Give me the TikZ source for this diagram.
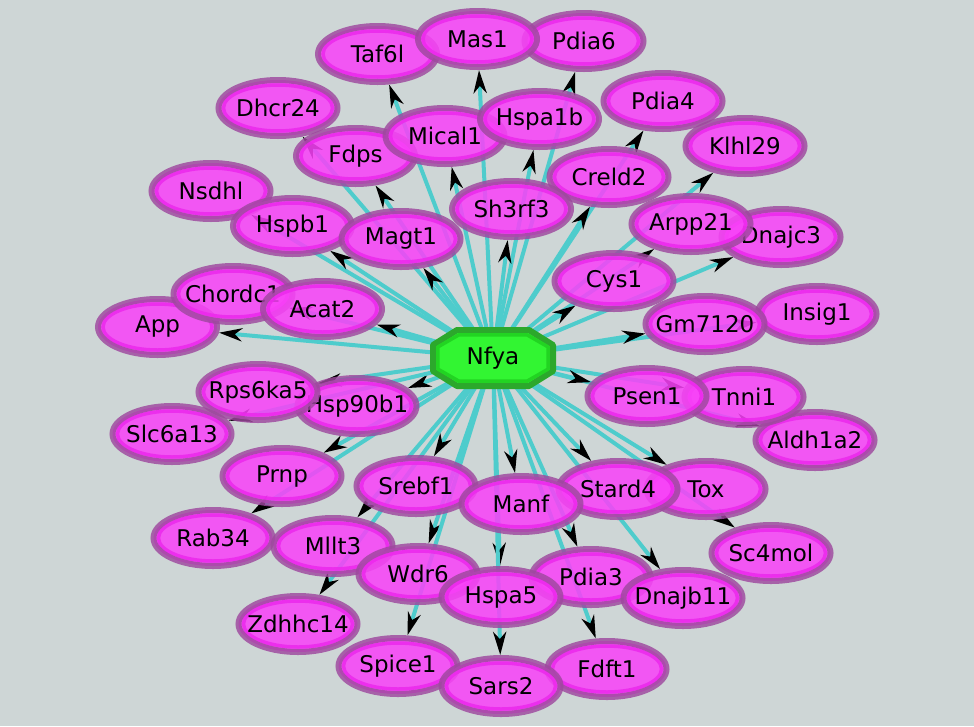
\documentclass[tikz,border=0pt]{standalone}
\usepackage{fontspec}
\setmainfont{DejaVu Sans}
\usetikzlibrary{arrows.meta,shapes.geometric}
\definecolor{bgc}{RGB}{206,214,214}
\definecolor{edgec}{RGB}{78,204,204}
\definecolor{gfill}{RGB}{248,66,248}
\definecolor{gring}{RGB}{236,40,236}
\definecolor{gborder}{RGB}{158,72,158}
\definecolor{nfill}{RGB}{50,245,50}
\definecolor{nring}{RGB}{34,212,34}
\definecolor{nborder}{RGB}{44,168,44}
\pgfdeclarelayer{bglayer}
\pgfdeclarelayer{edgelayer}
\pgfdeclarelayer{hublayer}
\pgfsetlayers{bglayer,edgelayer,hublayer,main}
\newcommand\gn[1]{\makebox[0pt]{#1}}
\tikzset{
  gene/.style={ellipse, minimum width=119pt, minimum height=56pt, inner sep=0pt,
    line width=6pt, draw=gborder, fill=gfill, draw opacity=0.82, fill opacity=0.86,
    text opacity=1, font=\fontsize{23}{27}\selectfont,
    path picture={\draw[gring, line width=3.5pt, draw opacity=0.85]
      (path picture bounding box.center) ellipse [x radius=54.5pt, y radius=23pt];}},
  hubtext/.style={inner sep=0pt, minimum width=126pt, minimum height=62pt,
    font=\fontsize{23}{27}\selectfont},
  hubshape/.style={draw=nborder, fill=nfill, line width=6pt, line join=round},
  hubring/.style={draw=nring, line width=3.5pt, line join=round},
  edge/.style={draw=edgec, line width=4pt,
    -{Stealth[black, length=23pt, width=13pt, inset=7pt]}}
}
\begin{document}
\begin{tikzpicture}[x=1pt, y=-1pt]
\useasboundingbox (0,0) rectangle (974,726);
\begin{pgfonlayer}{bglayer}
\fill[bgc] (0,0) rectangle (974,726);
\end{pgfonlayer}

\node[hubtext] (nfya) at (493,358) {Nfya};

\node[gene] (Taf6l) at (377.5,54) {\gn{Taf6l}};
\node[gene] (Pdia6) at (584,41) {\gn{Pdia6}};
\node[gene] (Mas1) at (477.5,39) {\gn{Mas1}};
\node[gene] (Dhcr24) at (278,108) {\gn{Dhcr24}};
\node[gene] (Pdia4) at (663,101) {\gn{Pdia4}};
\node[gene] (Fdps) at (355.5,156) {\gn{Fdps}};
\node[gene] (Mical1) at (445,136) {\gn{Mical1}};
\node[gene] (Hspa1b) at (539.5,119) {\gn{Hspa1b}};
\node[gene] (Klhl29) at (745,146) {\gn{Klhl29}};
\node[gene] (Creld2) at (609,177) {\gn{Creld2}};
\node[gene] (Nsdhl) at (211,191) {\gn{Nsdhl}};
\node[gene] (Hspb1) at (292.5,226) {\gn{Hspb1}};
\node[gene] (Magt1) at (401,239) {\gn{Magt1}};
\node[gene] (Sh3rf3) at (511.5,209) {\gn{Sh3rf3}};
\node[gene] (Dnajc3) at (781,237) {\gn{Dnajc3}};
\node[gene] (Arpp21) at (691,224) {\gn{Arpp21}};
\node[gene] (Cys1) at (614,281) {\gn{Cys1}};
\node[gene] (Insig1) at (817,314) {\gn{Insig1}};
\node[gene] (Gm7120) at (705,324) {\gn{Gm7120}};
\node[gene] (App) at (157.5,327) {\gn{App}};
\node[gene] (Chordc1) at (233,294) {\gn{Chordc1}};
\node[gene] (Acat2) at (322.5,309) {\gn{Acat2}};
\node[gene] (Hsp90b1) at (357,406) {\gn{Hsp90b1}};
\node[gene] (Rps6ka5) at (258,392) {\gn{Rps6ka5}};
\node[gene] (Slc6a13) at (172,434) {\gn{Slc6a13}};
\node[gene] (Aldh1a2) at (815,440) {\gn{Aldh1a2}};
\node[gene] (Tnni1) at (744,397) {\gn{Tnni1}};
\node[gene] (Psen1) at (647,396) {\gn{Psen1}};
\node[gene] (Prnp) at (282,476) {\gn{Prnp}};
\node[gene] (Rab34) at (213,538) {\gn{Rab34}};
\node[gene] (Srebf1) at (416,486) {\gn{Srebf1}};
\node[gene] (Tox) at (706,489) {\gn{Tox}};
\node[gene] (Stard4) at (618,489) {\gn{Stard4}};
\node[gene] (Manf) at (521,504) {\gn{Manf}};
\node[gene] (Sc4mol) at (771,553) {\gn{Sc4mol}};
\node[gene] (Mllt3) at (333,546) {\gn{Mllt3}};
\node[gene] (Zdhhc14) at (298,624) {\gn{Zdhhc14}};
\node[gene] (Wdr6) at (418,574) {\gn{Wdr6}};
\node[gene] (Pdia3) at (591,577) {\gn{Pdia3}};
\node[gene] (Dnajb11) at (683,598) {\gn{Dnajb11}};
\node[gene] (Hspa5) at (501,597) {\gn{Hspa5}};
\node[gene] (Spice1) at (398,666) {\gn{Spice1}};
\node[gene] (Fdft1) at (607,669) {\gn{Fdft1}};
\node[gene] (Sars2) at (501,686) {\gn{Sars2}};

\begin{pgfonlayer}{hublayer}
\begin{scope}[shift={(nfya.center)}]
\draw[hubshape] (-36,-28) -- (36,-28) -- (60,-13) -- (60,13) -- (36,28) -- (-36,28) -- (-60,13) -- (-60,-13) -- cycle;
\draw[hubring] (-34,-23.2) -- (34,-23.2) -- (55.2,-11) -- (55.2,11) -- (34,23.2) -- (-34,23.2) -- (-55.2,11) -- (-55.2,-11) -- cycle;
\end{scope}
\end{pgfonlayer}

\begin{pgfonlayer}{edgelayer}
\foreach \g in {Taf6l,Pdia6,Mas1,Dhcr24,Pdia4,Fdps,Mical1,Hspa1b,Klhl29,Creld2,
  Nsdhl,Hspb1,Magt1,Sh3rf3,Dnajc3,Arpp21,Cys1,Insig1,Gm7120,App,Chordc1,Acat2,
  Hsp90b1,Rps6ka5,Slc6a13,Aldh1a2,Tnni1,Psen1,Prnp,Rab34,Srebf1,Tox,Stard4,Manf,
  Sc4mol,Mllt3,Zdhhc14,Wdr6,Pdia3,Dnajb11,Hspa5,Spice1,Fdft1,Sars2}
  \draw[edge] (nfya.center) -- (\g);
\end{pgfonlayer}
\end{tikzpicture}
\end{document}
